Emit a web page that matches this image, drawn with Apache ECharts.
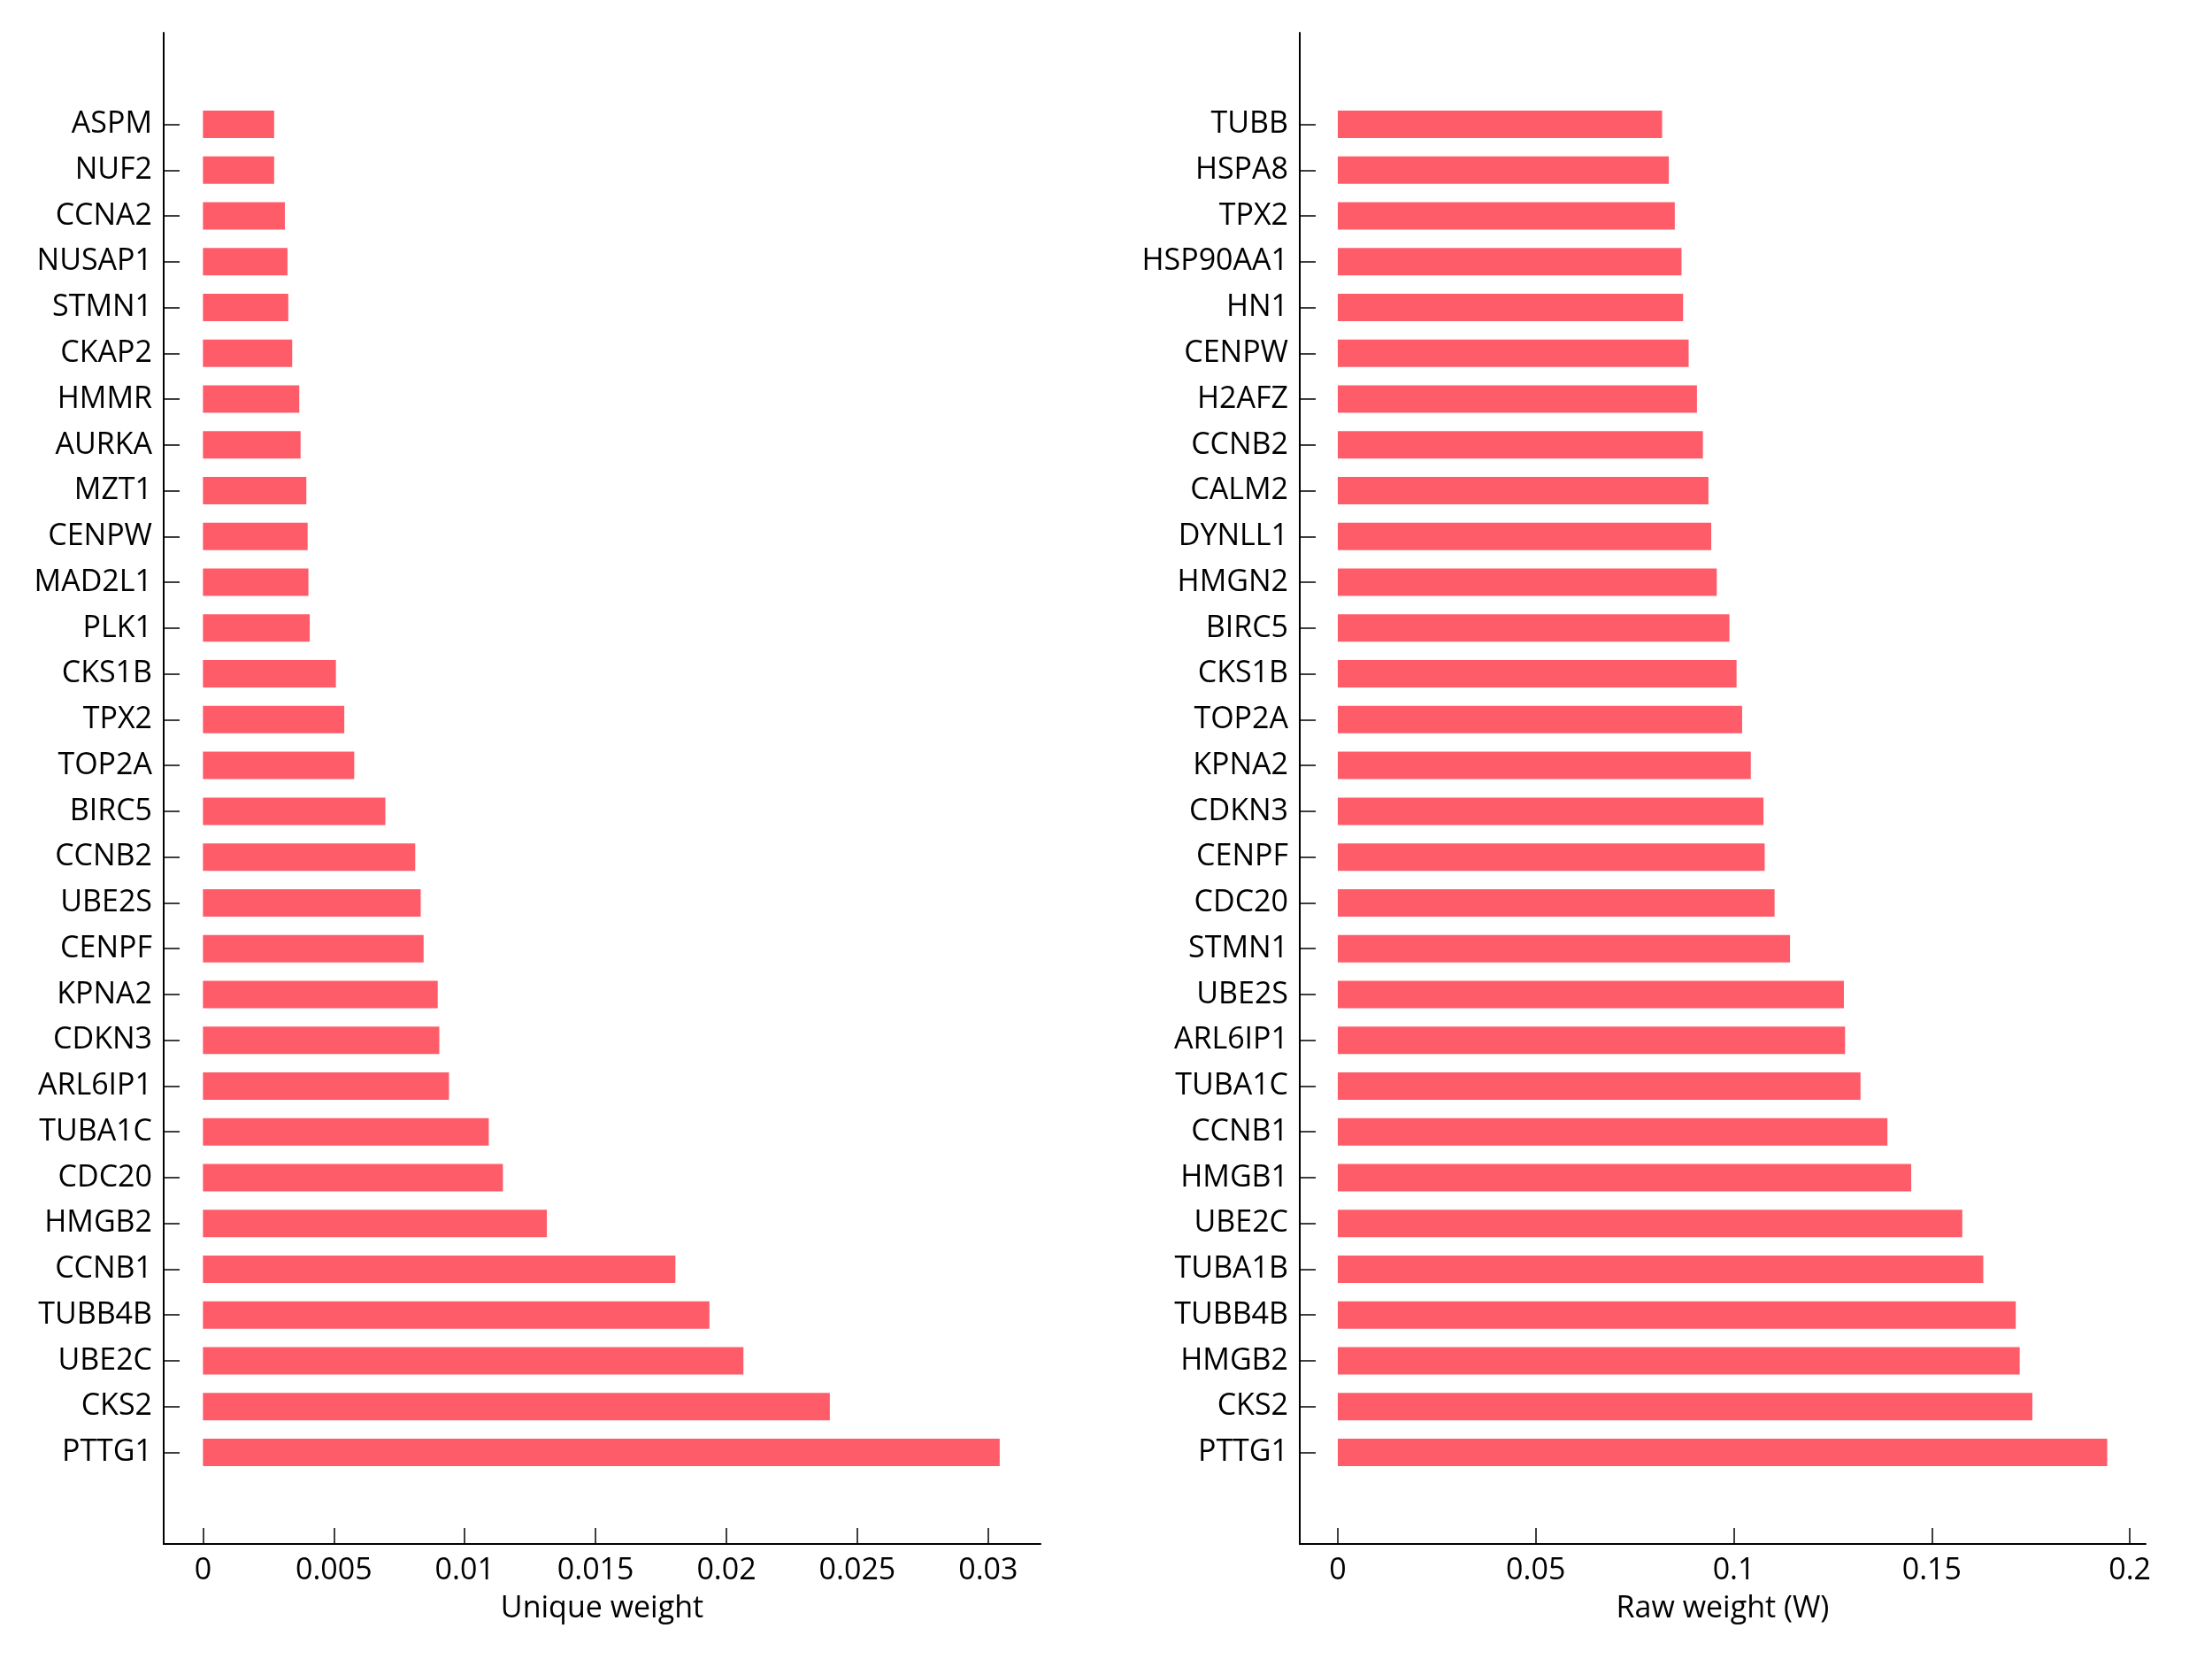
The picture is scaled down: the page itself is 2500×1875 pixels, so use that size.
<!DOCTYPE html>
<html>
<head>
<meta charset="utf-8">
<script src="https://cdn.jsdelivr.net/npm/echarts@6/dist/echarts.min.js"></script>
<style>
html,body{margin:0;padding:0;background:#fff;}
#chart{width:2500px;height:1875px;}
</style>
</head>
<body>
<div id="chart"></div>
<script>
// Categories listed top to bottom as they appear in the picture
const uniqueGenes = ['ASPM','NUF2','CCNA2','NUSAP1','STMN1','CKAP2','HMMR','AURKA','MZT1','CENPW','MAD2L1','PLK1','CKS1B','TPX2','TOP2A','BIRC5','CCNB2','UBE2S','CENPF','KPNA2','CDKN3','ARL6IP1','TUBA1C','CDC20','HMGB2','CCNB1','TUBB4B','UBE2C','CKS2','PTTG1'];
const uniqueValues = [0.00272,0.00272,0.00313,0.00323,0.00326,0.00341,0.00368,0.00373,0.00395,0.00400,0.00403,0.00408,0.00508,0.00540,0.00578,0.00697,0.00811,0.00832,0.00843,0.00897,0.00903,0.00940,0.01092,0.01146,0.01314,0.01805,0.01935,0.02065,0.02395,0.03044];
const uniqueTicks = [0,0.005,0.01,0.015,0.02,0.025,0.03];

const rawGenes = ['TUBB','HSPA8','TPX2','HSP90AA1','HN1','CENPW','H2AFZ','CCNB2','CALM2','DYNLL1','HMGN2','BIRC5','CKS1B','TOP2A','KPNA2','CDKN3','CENPF','CDC20','STMN1','UBE2S','ARL6IP1','TUBA1C','CCNB1','HMGB1','UBE2C','TUBA1B','TUBB4B','HMGB2','CKS2','PTTG1'];
const rawValues = [0.0819,0.0836,0.0851,0.0868,0.0872,0.0886,0.0907,0.0922,0.0936,0.0943,0.0957,0.0989,0.1007,0.1021,0.1043,0.1075,0.1078,0.1103,0.1142,0.1278,0.1281,0.1320,0.1388,0.1448,0.1577,0.1630,0.1712,0.1722,0.1754,0.1943];
const rawTicks = [0,0.05,0.1,0.15,0.2];

const xTitles = ['Unique weight','Raw weight (W)'];

const FONT = 'Open Sans';
const BAR_COLOR = '#ff5c6a';
const PAD = ['_pad0','_pad1'];
const PAD2 = ['_pad2','_pad3'];

function padCats(names){ return PAD.concat(names.slice().reverse(), PAD2); }
function padVals(vals){ return ['-','-'].concat(vals.slice().reverse(), ['-','-']); }
const isPad = v => typeof v === 'string' && v.indexOf('_pad') === 0;

function xAxisCfg(idx, min, max, ticks, title){
  return {
    type:'value', gridIndex: idx, min: min, max: max,
    name: title, nameLocation:'middle', nameGap: 56,
    nameTextStyle:{fontFamily:FONT,fontSize:34,color:'#000'},
    axisLine:{show:true,onZero:false,lineStyle:{color:'#000',width:2}},
    axisTick:{show:true,inside:true,length:18,customValues:ticks,lineStyle:{color:'#000',width:1.5}},
    axisLabel:{show:true,margin:13,customValues:ticks,fontFamily:FONT,fontSize:34,color:'#000',
      showMinLabel:true,showMaxLabel:true},
    splitLine:{show:false}
  };
}
function yAxisCfg(idx, names){
  return {
    type:'category', gridIndex: idx, boundaryGap:false,
    data: padCats(names),
    axisLine:{show:true,onZero:false,lineStyle:{color:'#000',width:2}},
    axisTick:{show:true,inside:true,length:18,interval:(i,v)=>!isPad(v),lineStyle:{color:'#000',width:1.5}},
    axisLabel:{show:true,margin:13,interval:(i,v)=>!isPad(v),formatter:v=>isPad(v)?'':v,
      fontFamily:FONT,fontSize:34,color:'#000'},
    splitLine:{show:false}
  };
}

const chart = echarts.init(document.getElementById('chart'), null, {renderer:'canvas'});
chart.setOption({
  backgroundColor:'#fff',
  animation:false,
  grid:[
    {left:185, right:1324, top:37, bottom:130, containLabel:false},
    {left:1469, right:75, top:37, bottom:130, containLabel:false}
  ],
  xAxis:[
    xAxisCfg(0, -0.0015, 0.032, uniqueTicks, xTitles[0]),
    xAxisCfg(1, -0.0096, 0.204, rawTicks, xTitles[1])
  ],
  yAxis:[
    yAxisCfg(0, uniqueGenes),
    yAxisCfg(1, rawGenes)
  ],
  series:[
    {type:'bar', xAxisIndex:0, yAxisIndex:0, data: padVals(uniqueValues), barWidth:31,
      itemStyle:{color:BAR_COLOR}, silent:true},
    {type:'bar', xAxisIndex:1, yAxisIndex:1, data: padVals(rawValues), barWidth:31,
      itemStyle:{color:BAR_COLOR}, silent:true}
  ]
});
</script>
</body>
</html>
